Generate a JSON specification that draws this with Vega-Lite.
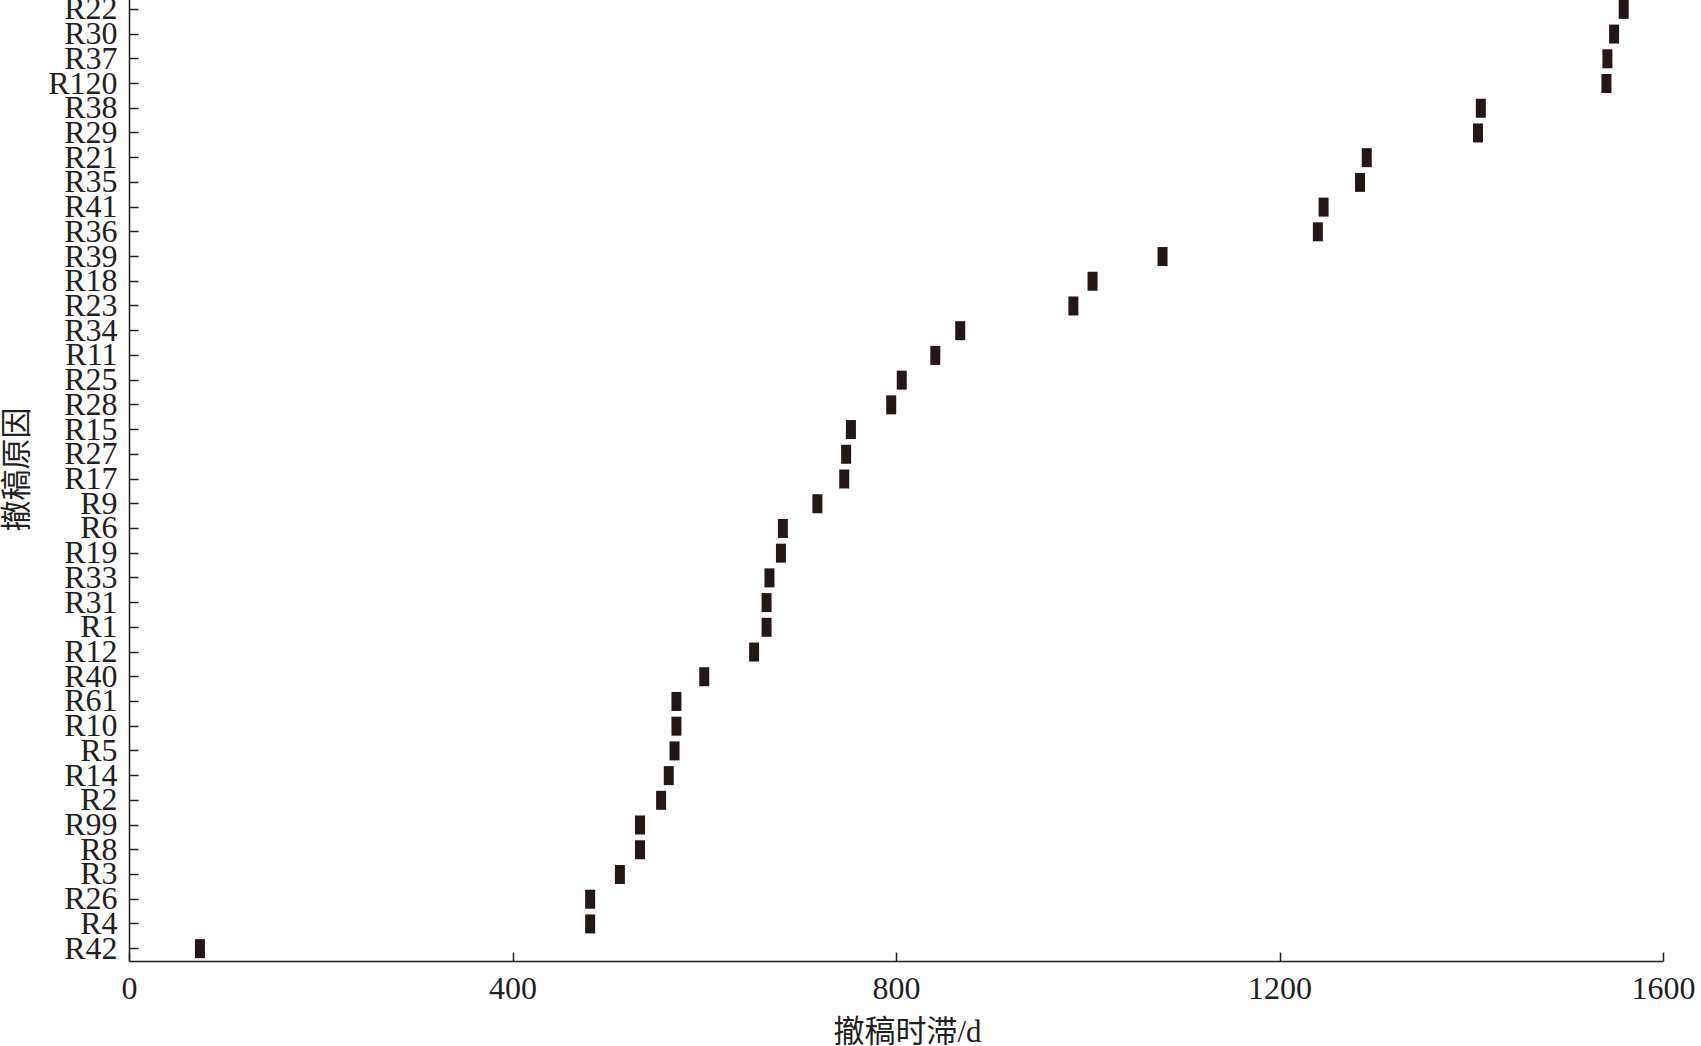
{
  "$schema": "https://vega.github.io/schema/vega-lite/v6.json",
  "width": 1534,
  "height": 964,
  "autosize": {"type": "none"},
  "padding": {"left": 129, "top": -3, "right": 38, "bottom": 85},
  "background": "white",
  "config": {"view": {"stroke": null}},
  "data": {
    "values": [
      {"reason": "R22", "days": 1559},
      {"reason": "R30", "days": 1549},
      {"reason": "R37", "days": 1542},
      {"reason": "R120", "days": 1541},
      {"reason": "R38", "days": 1410},
      {"reason": "R29", "days": 1407},
      {"reason": "R21", "days": 1291},
      {"reason": "R35", "days": 1284},
      {"reason": "R41", "days": 1246},
      {"reason": "R36", "days": 1240},
      {"reason": "R39", "days": 1078},
      {"reason": "R18", "days": 1005},
      {"reason": "R23", "days": 985},
      {"reason": "R34", "days": 867},
      {"reason": "R11", "days": 841},
      {"reason": "R25", "days": 806},
      {"reason": "R28", "days": 795},
      {"reason": "R15", "days": 753},
      {"reason": "R27", "days": 748},
      {"reason": "R17", "days": 746},
      {"reason": "R9", "days": 718},
      {"reason": "R6", "days": 682},
      {"reason": "R19", "days": 680},
      {"reason": "R33", "days": 668},
      {"reason": "R31", "days": 665},
      {"reason": "R1", "days": 665},
      {"reason": "R12", "days": 652},
      {"reason": "R40", "days": 600},
      {"reason": "R61", "days": 571},
      {"reason": "R10", "days": 571},
      {"reason": "R5", "days": 569},
      {"reason": "R14", "days": 563},
      {"reason": "R2", "days": 555},
      {"reason": "R99", "days": 533},
      {"reason": "R8", "days": 533},
      {"reason": "R3", "days": 512},
      {"reason": "R26", "days": 481},
      {"reason": "R4", "days": 481},
      {"reason": "R42", "days": 74}
    ]
  },
  "mark": {"type": "tick", "thickness": 10, "size": 19, "color": "#231815", "opacity": 1},
  "encoding": {
    "x": {
      "field": "days",
      "type": "quantitative",
      "scale": {"domain": [0, 1600], "nice": false, "zero": true},
      "axis": {
        "title": "撤稿时滞/d",
        "values": [0, 400, 800, 1200, 1600],
        "format": "d",
        "grid": false,
        "domainColor": "#231f20",
        "domainWidth": 1.5,
        "tickColor": "#231f20",
        "tickWidth": 1.5,
        "tickSize": -9,
        "labelPadding": 21,
        "labelFont": "Liberation Serif",
        "labelFontSize": 32,
        "labelColor": "#231f20",
        "labelFlush": false,
        "titleFont": "Liberation Serif, Noto Sans CJK SC",
        "titleFontSize": 31,
        "titleFontWeight": "normal",
        "titleColor": "#231f20",
        "titleAnchor": "middle",
        "titleAlign": "center",
        "titleBaseline": "alphabetic",
        "titleX": 778,
        "titleY": 80
      }
    },
    "y": {
      "field": "reason",
      "type": "nominal",
      "sort": ["R22","R30","R37","R120","R38","R29","R21","R35","R41","R36","R39","R18","R23","R34","R11","R25","R28","R15","R27","R17","R9","R6","R19","R33","R31","R1","R12","R40","R61","R10","R5","R14","R2","R99","R8","R3","R26","R4","R42"],
      "scale": {"type": "band", "paddingInner": 0, "paddingOuter": 0},
      "axis": {
        "title": "撤稿原因",
        "grid": false,
        "domainColor": "#231f20",
        "domainWidth": 1.5,
        "tickColor": "#231f20",
        "tickWidth": 1.5,
        "tickSize": -9,
        "labelPadding": 21,
        "labelFont": "Liberation Serif",
        "labelFontSize": 32,
        "labelColor": "#231f20",
        "labelOverlap": false,
        "labelBaseline": "middle",
        "titleFont": "Liberation Serif, Noto Sans CJK SC",
        "titleFontSize": 31,
        "titleFontWeight": "normal",
        "titleColor": "#231f20",
        "titleAngle": -90,
        "titleAlign": "center",
        "titleBaseline": "middle",
        "titleX": -112,
        "titleY": 472
      }
    }
  }
}
